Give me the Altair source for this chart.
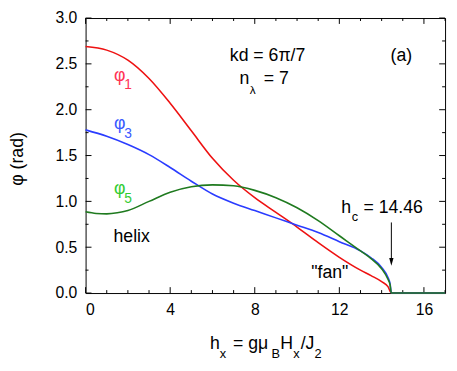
import altair as alt
import pandas as pd

# ---------------- data ----------------
h_red = [0, 1, 2, 3, 4, 5, 6, 7, 8, 9, 10, 11, 12, 13, 13.5, 14, 14.3, 14.46, 15, 16, 17]
phi1 = [2.69, 2.65, 2.54, 2.34, 2.07, 1.77, 1.47, 1.23, 1.04, 0.88, 0.72, 0.55, 0.39, 0.25, 0.19, 0.125, 0.07, 0.0, 0.0, 0.0, 0.0]

h_blue = [0, 1, 2, 3, 4, 5, 6, 7, 8, 9, 10, 11, 12, 13, 13.5, 14, 14.3, 14.4, 14.46, 15, 16, 17]
phi3 = [1.78, 1.71, 1.62, 1.51, 1.37, 1.22, 1.08, 0.98, 0.90, 0.82, 0.74, 0.66, 0.56, 0.46, 0.385, 0.28, 0.17, 0.10, 0.0, 0.0, 0.0, 0.0]

h_green = [0, 0.5, 1, 1.5, 2, 3, 4, 5, 6, 7, 8, 9, 10, 11, 12, 13, 13.5, 14, 14.3, 14.4, 14.46, 15, 16, 17]
phi5 = [0.886, 0.868, 0.864, 0.875, 0.90, 1.00, 1.10, 1.16, 1.18, 1.17, 1.12, 1.04, 0.93, 0.79, 0.625, 0.46, 0.375, 0.265, 0.15, 0.09, 0.0, 0.0, 0.0, 0.0]

x_major = [0, 4, 8, 12, 16]
x_minor = [1, 2, 3, 5, 6, 7, 9, 10, 11, 13, 14, 15, 17]
y_major = [0.0, 0.5, 1.0, 1.5, 2.0, 2.5, 3.0]
y_minor = [0.25, 0.75, 1.25, 1.75, 2.25, 2.75]

h_c = 14.46
arrow_top, arrow_bottom, arrow_head = 0.77, 0.36, 0.34

FONT = "Liberation Sans"
W, H = 366, 280

xs = alt.Scale(domain=[0, 17], nice=False, zero=False)
ys = alt.Scale(domain=[0, 3], nice=False, zero=False)

common = dict(domain=False, grid=False, title=None, labelFont=FONT, labelColor="black", ticks=False)
AX = alt.Axis(orient="bottom", values=x_major, format="d", labelFontSize=16, labelPadding=9, **common)
AY = alt.Axis(orient="left", values=y_major, format=".1f", labelFontSize=16, labelPadding=9, **common)

def X(field):
    return alt.X(field, scale=xs, axis=AX, title=None)

def Y(field):
    return alt.Y(field, scale=ys, axis=AY, title=None)

def series_df(h, v):
    return pd.DataFrame({"h": h, "v": v})

def line(h, v, color):
    return alt.Chart(series_df(h, v)).mark_line(
        color=color, strokeWidth=1.6, interpolate="monotone"
    ).encode(x=X("h:Q"), y=Y("v:Q"))

# inward ticks on all four sides, drawn through the scales
def xticks(values, size):
    df = pd.DataFrame({"h": values})
    bottom = alt.Chart(df).mark_rule(color="black", strokeWidth=1).encode(
        x=X("h:Q"), y=alt.value(H), y2=alt.value(H - size))
    top = alt.Chart(df).mark_rule(color="black", strokeWidth=1).encode(
        x=X("h:Q"), y=alt.value(0), y2=alt.value(size))
    return [bottom, top]

def yticks(values, size):
    df = pd.DataFrame({"v": values})
    left = alt.Chart(df).mark_rule(color="black", strokeWidth=1).encode(
        y=Y("v:Q"), x=alt.value(0), x2=alt.value(size))
    right = alt.Chart(df).mark_rule(color="black", strokeWidth=1).encode(
        y=Y("v:Q"), x=alt.value(W), x2=alt.value(W - size))
    return [left, right]

ticks = xticks(x_major, 6) + xticks(x_minor, 3) + yticks(y_major, 6) + yticks(y_minor, 3)

def txt(text, h, v, size, color="black", dx=0, dy=0, align="left", baseline="alphabetic"):
    df = pd.DataFrame({"t": [text], "h": [h], "v": [v]})
    return alt.Chart(df).mark_text(
        font=FONT, fontSize=size, color=color, dx=dx, dy=dy, align=align, baseline=baseline
    ).encode(x=X("h:Q"), y=Y("v:Q"), text="t:N")

def ptxt(text, px, py, size, angle=0, align="left", baseline="alphabetic"):
    df = pd.DataFrame({"t": [text]})
    return alt.Chart(df).mark_text(
        font=FONT, fontSize=size, color="black", angle=angle, align=align, baseline=baseline
    ).encode(x=alt.value(px), y=alt.value(py), text="t:N")

RED_L, BLUE_L, GREEN_L = "#ff3355", "#3a5aff", "#33cc33"

annotations = [
    txt("φ", 1.34, 2.312, 18, RED_L), txt("1", 1.34, 2.312, 14, RED_L, dx=10.5, dy=8),
    txt("φ", 1.34, 1.787, 18, BLUE_L), txt("3", 1.34, 1.787, 14, BLUE_L, dx=10.5, dy=9),
    txt("φ", 1.34, 1.080, 18, GREEN_L), txt("5", 1.34, 1.080, 14, GREEN_L, dx=10.5, dy=9.5),
    txt("kd = 6π/7", 6.82, 2.535, 18),
    txt("n", 7.28, 2.285, 18), txt("λ", 7.28, 2.285, 12, dx=10.5, dy=11),
    txt("= 7", 7.28, 2.285, 18, dx=24.7),
    txt("(a)", 14.42, 2.535, 18),
    txt("helix", 1.32, 0.554, 18),
    txt("\"fan\"", 10.67, 0.16, 18),
    txt("h", 12.09, 0.875, 18), txt("c", 12.09, 0.875, 13, dx=10.6, dy=8.3),
    txt("= 14.46", 12.09, 0.875, 18, dx=22.6),
]

# x-axis title with subscripts (pixel positions relative to plot area)
xt_main, xt_sub = 336.7, 346.5
x_title = [
    ptxt("h", 126.6, xt_main, 18), ptxt("x", 136.6, xt_sub, 13),
    ptxt("= gμ", 150, xt_main, 18), ptxt("B", 189.3, xt_sub, 13),
    ptxt("H", 198.3, xt_main, 18), ptxt("x", 211.5, xt_sub, 13),
    ptxt("/J", 219, xt_main, 18), ptxt("2", 233, xt_sub, 13),
]
y_title = ptxt("φ (rad)", -69, 143.5, 18, angle=270, align="center", baseline="middle")

arrow_df = pd.DataFrame({"h": [h_c], "v": [arrow_top], "v2": [arrow_bottom], "vh": [arrow_head]})
arrow_line = alt.Chart(arrow_df).mark_rule(color="black", strokeWidth=1).encode(
    x=X("h:Q"), y=Y("v:Q"), y2="v2:Q",
)
arrow_tip = alt.Chart(arrow_df).mark_point(
    shape="M-0.55,-1L0.55,-1L0,1Z", size=64, filled=True, color="black", opacity=1, strokeWidth=0
).encode(x=X("h:Q"), y=Y("vh:Q"))

layers = ticks + [
    line(h_red, phi1, "#ee1111"),
    line(h_blue, phi3, "#2a3cff"),
    line(h_green, phi5, "#1f7a1f"),
    arrow_line, arrow_tip,
] + annotations + x_title + [y_title]

chart = alt.layer(*layers).properties(
    width=W, height=H,
    autosize=alt.AutoSizeParams(type="none"),
    padding={"left": 79, "top": 7, "right": 4, "bottom": 68},
).configure_view(stroke="black", strokeWidth=1)

chart.save("out.html", embed_options={"renderer": "svg", "actions": False})
